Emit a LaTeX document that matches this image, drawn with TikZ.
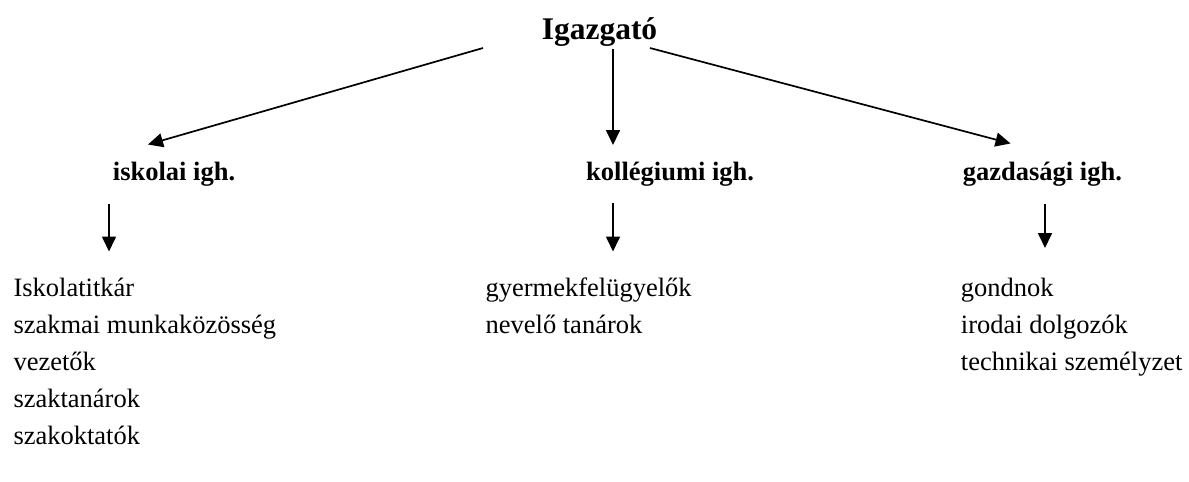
\documentclass[tikz,border=0pt]{standalone}
\usepackage{fontspec}
\setmainfont{Liberation Serif}
\usetikzlibrary{arrows.meta}
\begin{document}
\begin{tikzpicture}[x=1pt,y=-1pt,
  arr/.style={line width=1.7pt, -{Triangle[length=15pt,width=14pt]}},
  body/.style={anchor=base west, inner sep=0pt, font=\fontsize{26.5}{30}\selectfont},
  head/.style={anchor=base west, inner sep=0pt, font=\fontsize{26.5}{30}\selectfont\bfseries},
  boss/.style={anchor=base, inner sep=0pt, font=\fontsize{31.5}{36}\selectfont\bfseries}]
\useasboundingbox (0,0) rectangle (1189,482);
% top
\node[boss] (igazgato) at (599.5,39.5) {Igazgató};
% second level
\node[head] (iskolai) at (112.7,180.5) {iskolai igh.};
\node[head] (kollegiumi) at (586,180.5) {kollégiumi igh.};
\node[head] (gazdasagi) at (962.7,180.5) {gazdasági igh.};
% lists
\node[body] (l1) at (13.3,296) {Iskolatitkár};
\node[body] (l2) at (13.3,333) {szakmai munkaközösség};
\node[body] (l3) at (13.3,370) {vezetők};
\node[body] (l4) at (13.3,407) {szaktanárok};
\node[body] (l5) at (13.3,444) {szakoktatók};
\node[body] (m1) at (485.4,296) {gyermekfelügyelők};
\node[body] (m2) at (485.4,333) {nevelő tanárok};
\node[body] (r1) at (960.7,296) {gondnok};
\node[body] (r2) at (960.7,333) {irodai dolgozók};
\node[body] (r3) at (960.7,370) {technikai személyzet};
% connector end points
\coordinate (sL) at (483,48);
\coordinate (tL) at (148,144.5);
\coordinate (sM) at (613,49);
\coordinate (tM) at (613,145);
\coordinate (sR) at (650,48);
\coordinate (tR) at (1010.5,143.5);
\coordinate (aL) at (109,204);
\coordinate (bL) at (109,251.5);
\coordinate (aM) at (613,203);
\coordinate (bM) at (613,251.5);
\coordinate (aR) at (1045,204);
\coordinate (bR) at (1045,248);
\draw[arr] (sL) -- (tL);
\draw[arr] (sM) -- (tM);
\draw[arr] (sR) -- (tR);
\draw[arr] (aL) -- (bL);
\draw[arr] (aM) -- (bM);
\draw[arr] (aR) -- (bR);
\end{tikzpicture}
\end{document}
